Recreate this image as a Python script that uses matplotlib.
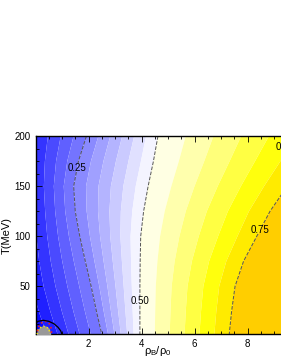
import matplotlib

matplotlib.use("Agg")
import matplotlib.pyplot as plt
import numpy as np
from matplotlib.colors import LinearSegmentedColormap
from matplotlib.ticker import MultipleLocator

plt.rcParams["font.family"] = ["Liberation Sans", "DejaVu Sans"]

# rows of temperature where the contour positions were read
temperature = [2, 25, 50, 75, 100, 125, 150, 175, 200]
# field value at rho_B/rho_0 = 0
value_at_zero = [0.0, 0.03, 0.055, 0.07, 0.08, 0.085, 0.09, 0.09, 0.085]
# rho_B/rho_0 where the field reaches 0.25, 0.50, 0.75
x_025 = [2.5, 2.3, 2.1, 1.88, 1.67, 1.5, 1.44, 1.62, 1.92]
x_050 = [3.94, 3.94, 3.94, 3.95, 3.97, 4.08, 4.25, 4.45, 4.62]
x_075 = [7.31, 7.4, 7.53, 7.85, 8.35, 8.85, 9.5, 10.2, 10.9]
x_edge = 11.5
value_at_edge = 0.8

levels = np.linspace(0.0, 1.0, 25)
line_levels = [0.25, 0.50, 0.75]

# small region near the origin
dome_x = [0.06, 0.1, 0.2, 0.3, 0.4, 0.5, 0.55]
dome_t = [2, 6.5, 9, 10, 9.5, 7.5, 2]
red_x = [0.07, 0.12, 0.23, 0.36, 0.48, 0.56, 0.6, 0.6]
red_t = [5, 9.5, 13.5, 15, 14, 11, 7, 2]
black_x = [0.0, 0.1, 0.3, 0.5, 0.7, 0.85, 0.95, 1.0]
black_t = [13, 15, 16, 15, 12.5, 9, 5.5, 2]

n_rows = len(temperature)
X = np.column_stack([np.zeros(n_rows), x_025, x_050, x_075, np.full(n_rows, x_edge)])
Y = np.repeat(np.array(temperature, dtype=float)[:, None], 5, axis=1)
Z = np.column_stack([value_at_zero, np.full(n_rows, 0.25), np.full(n_rows, 0.5),
                     np.full(n_rows, 0.75), np.full(n_rows, value_at_edge)])

cmap = LinearSegmentedColormap.from_list(
    "bwy",
    [(0.0, (0.0, 0.0, 1.0)), (0.5, (1.0, 1.0, 1.0)), (0.7, (1.0, 1.0, 0.0)),
     (0.77, (1.0, 0.81, 0.0)), (1.0, (1.0, 0.6, 0.0))],
)

fig = plt.figure(figsize=(2.81, 3.63), dpi=100)
ax = fig.add_axes([35.5 / 281, 28.7 / 363, 265 / 281, 198.1 / 363])

ax.contourf(X, Y, Z, levels=levels, cmap=cmap, vmin=0.0, vmax=1.0, antialiased=True)
cs = ax.contour(X, Y, Z, levels=line_levels, colors="#555555", linestyles="--", linewidths=0.7)
labels = ax.clabel(cs, fmt="%.2f", fontsize=7, inline=True, inline_spacing=-5,
                   manual=[(1.72, 168), (3.95, 35), (8.5, 106)])
for t in labels:
    t.set_rotation(0)
    t.set_color("black")
ax.text(9.08, 189, "0.70", fontsize=7, va="center", ha="left")

ax.fill_between(dome_x, 0, dome_t, color="#999999", zorder=3)
ax.plot(dome_x, dome_t, color="#ffee00", ls=":", lw=1.0, zorder=4)
ax.plot(red_x, red_t, color="#ee2222", ls=":", lw=1.2, zorder=4)
ax.plot(black_x, black_t, color="black", lw=0.9, zorder=4)

ax.set_xlim(0, 10)
ax.set_ylim(2, 200)
ax.set_xticks([2, 4, 6, 8])
ax.set_yticks([50, 100, 150, 200])
ax.xaxis.set_minor_locator(MultipleLocator(0.5))
ax.yaxis.set_minor_locator(MultipleLocator(12.5))
ax.tick_params(which="both", direction="in", top=True, right=True, labelsize=7, width=0.6)
ax.tick_params(which="major", length=4)
ax.tick_params(which="minor", length=2)
for spine in ax.spines.values():
    spine.set_linewidth(1.0)

ax.set_xlabel(r"$\mathregular{\rho_B/\rho_0}$", fontsize=8)
ax.xaxis.set_label_coords(0.462, -0.05)
ax.set_ylabel("T(MeV)", fontsize=8, labelpad=2)

fig.savefig("out.png", dpi=100)
